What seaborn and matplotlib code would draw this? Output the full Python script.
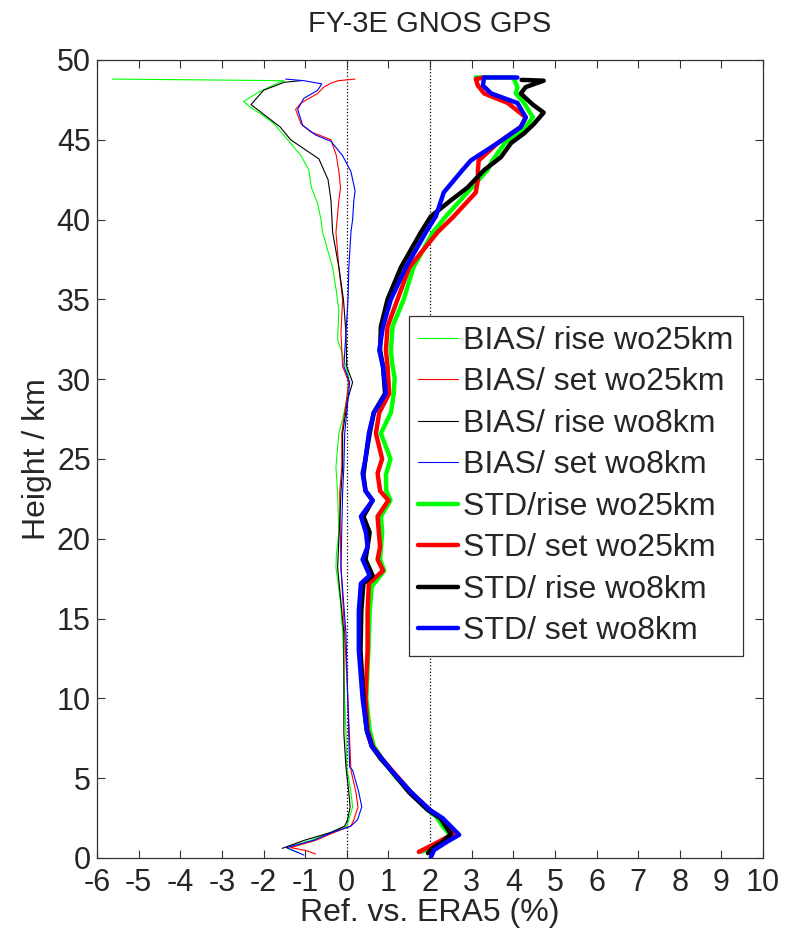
# -*- coding: utf-8 -*-
# FY-3E GNOS GPS refractivity bias / std profiles vs ERA5
import numpy as np
import pandas as pd
import matplotlib
matplotlib.use("Agg")
import matplotlib.pyplot as plt
import seaborn as sns

# ------------------
# data
# ------------------
bias_rise25_h = [0.35, 0.65, 1.1, 1.6, 2.0, 2.4, 3.2, 4.1, 5.7, 7.8, 9.9, 12.0, 14.1, 16.0, 18.2, 19.0,
                 20.4, 22.9, 24.5, 26.6, 27.5, 28.7, 30.1, 30.8, 31.5, 32.5, 34.3, 35.5, 37.0, 38.0,
                 39.2, 40.0, 41.0, 42.0, 43.1, 44.0, 45.0, 46.0, 46.5, 47.0, 47.4, 48.0, 48.5, 48.7,
                 48.75, 48.8]
bias_rise25_v = [-1.2, -1.45, -0.87, -0.4, 0.0, 0.05, 0.14, 0.1, 0.0, -0.02, -0.05, -0.07, -0.1, -0.15,
                 -0.26, -0.25, -0.19, -0.22, -0.26, -0.19, -0.1, 0.0, 0.05, -0.02, -0.1, -0.22, -0.19,
                 -0.25, -0.34, -0.45, -0.58, -0.62, -0.7, -0.85, -0.91, -1.1, -1.42, -1.75, -2.0, -2.3,
                 -2.48, -2.1, -1.7, -1.5, -3.5, -5.63]

bias_set25_h = [0.25, 0.45, 0.65, 1.1, 1.6, 2.0, 2.4, 3.2, 4.1, 5.5, 8.6, 14.1, 18.2, 22.9, 24.5, 26.6,
                29.8, 30.8, 32.9, 35.0, 37.0, 39.2, 41.2, 42.0, 43.0, 44.0, 45.0, 45.5, 46.0, 46.9,
                47.3, 47.9, 48.3, 48.55, 48.7, 48.8]
bias_set25_v = [-0.75, -0.95, -1.35, -0.75, -0.3, 0.1, 0.17, 0.27, 0.22, 0.1, 0.05, -0.05, -0.14, -0.17,
                -0.12, -0.12, 0.05, -0.1, -0.14, -0.1, -0.19, -0.26, -0.19, -0.15, -0.19, -0.25, -0.38,
                -0.87, -1.1, -1.23, -1.1, -0.7, -0.55, -0.38, -0.2, 0.2]

bias_rise8_h = [0.6, 1.1, 1.6, 2.0, 2.4, 3.2, 4.1, 5.7, 7.8, 14.1, 18.2, 22.9, 24.5, 26.6, 28.7, 29.8,
                30.8, 32.9, 35.0, 37.0, 39.2, 41.2, 42.5, 43.8, 45.0, 45.8, 46.5, 47.2, 48.1, 48.6,
                48.7]
bias_rise8_v = [-1.55, -1.03, -0.38, -0.05, 0.02, 0.08, 0.05, -0.02, -0.07, -0.07, -0.22, -0.14, -0.1,
                -0.1, 0.02, 0.14, 0.0, -0.02, -0.08, -0.19, -0.34, -0.38, -0.45, -0.67, -1.35, -1.6,
                -1.95, -2.3, -2.0, -1.5, -1.1]

bias_set8_h = [0.18, 0.65, 1.1, 1.6, 2.0, 2.4, 3.2, 4.1, 5.5, 5.7, 14.1, 18.2, 22.9, 24.5, 26.6, 29.8,
               30.8, 32.9, 35.0, 37.0, 39.2, 40.0, 41.2, 41.8, 43.0, 44.0, 44.9, 45.3, 45.9, 46.9,
               47.6, 48.1, 48.5, 48.7, 48.8]
bias_set8_v = [-1.03, -1.45, -0.8, -0.35, 0.1, 0.26, 0.36, 0.29, 0.14, 0.07, -0.02, -0.14, -0.1, -0.07,
               -0.05, 0.07, -0.07, -0.02, 0.03, 0.05, 0.1, 0.14, 0.17, 0.2, 0.1, -0.1, -0.38, -0.75,
               -1.06, -1.18, -1.03, -0.7, -0.6, -1.03, -1.47]

std_rise25_h = [0.4, 0.8, 1.4, 2.0, 2.6, 3.0, 3.5, 4.1, 5.0, 5.5, 6.2, 7.0, 8.0, 10.0, 12.0, 13.0, 15.5,
                17.0, 18.0, 18.7, 20.4, 21.4, 22.4, 23.0, 24.0, 25.0, 26.6, 27.9, 29.1, 30.1, 30.8,
                31.8, 33.3, 35.0, 37.0, 39.2, 40.2, 41.7, 43.1, 43.7, 44.8, 45.8, 46.4, 47.3, 47.9,
                48.3, 48.9, 48.9]
std_rise25_v = [1.8, 2.2, 2.5, 2.3, 2.15, 1.95, 1.75, 1.55, 1.2, 1.05, 0.85, 0.65, 0.55, 0.47, 0.5,
                0.52, 0.55, 0.6, 0.9, 0.8, 0.85, 0.82, 1.05, 0.95, 0.94, 1.05, 0.82, 1.06, 1.13, 1.15,
                1.1, 1.06, 1.1, 1.37, 1.6, 2.07, 2.38, 2.9, 3.38, 3.5, 3.8, 4.3, 4.47, 4.26, 4.06, 4.1,
                4.0, 3.1]

std_set25_h = [0.38, 0.6, 1.0, 1.5, 2.5, 3.0, 4.1, 5.5, 6.2, 7.0, 8.0, 10.0, 13.0, 15.5, 17.2, 18.0,
               18.7, 19.5, 20.4, 21.4, 22.4, 23.0, 24.1, 25.0, 26.6, 27.9, 29.1, 30.8, 31.8, 33.3,
               35.0, 37.0, 39.2, 40.2, 41.7, 42.5, 43.1, 43.7, 44.8, 45.8, 46.4, 47.3, 47.9, 48.4,
               48.8, 48.9]
std_set25_v = [1.73, 1.9, 2.2, 2.55, 2.25, 2.0, 1.55, 1.08, 0.85, 0.62, 0.5, 0.45, 0.5, 0.5, 0.53, 0.87,
               0.74, 0.8, 0.77, 0.74, 1.0, 0.8, 0.74, 0.85, 0.7, 0.78, 1.02, 0.98, 0.94, 0.98, 1.22,
               1.5, 2.18, 2.57, 3.1, 3.15, 3.15, 3.17, 3.63, 4.18, 4.3, 3.87, 3.3, 3.15, 3.1, 3.3]

std_rise8_h = [0.3, 0.6, 1.0, 1.5, 2.5, 3.0, 4.1, 5.5, 6.2, 7.0, 8.0, 10.0, 13.0, 15.5, 17.2, 17.7,
               18.7, 19.5, 20.4, 21.4, 22.4, 23.0, 24.0, 25.0, 26.6, 27.9, 29.1, 30.8, 31.8, 33.3,
               35.0, 37.0, 39.2, 40.2, 41.2, 42.0, 43.1, 43.9, 44.8, 45.4, 46.0, 46.7, 47.2, 47.7,
               47.9, 48.3, 48.7, 48.75]
std_rise8_v = [1.95, 2.05, 2.3, 2.5, 2.25, 1.95, 1.5, 1.06, 0.82, 0.6, 0.48, 0.4, 0.33, 0.35, 0.4,
               0.62, 0.45, 0.5, 0.55, 0.4, 0.62, 0.45, 0.4, 0.45, 0.55, 0.65, 0.92, 0.87, 0.8, 0.82,
               0.98, 1.3, 1.78, 2.02, 2.5, 2.9, 3.3, 3.7, 3.95, 4.26, 4.5, 4.73, 4.47, 4.26, 4.18,
               4.3, 4.73, 4.2]

std_set8_h = [0.05, 0.5, 1.0, 1.45, 2.5, 3.0, 4.1, 5.5, 6.2, 7.0, 8.0, 10.0, 13.0, 15.5, 17.2, 17.7,
              18.7, 19.5, 20.4, 21.4, 22.4, 23.0, 24.1, 25.0, 26.6, 27.9, 29.1, 30.8, 31.8, 33.3,
              35.0, 37.0, 39.2, 40.2, 41.7, 43.1, 43.7, 44.8, 45.8, 46.4, 47.3, 47.9, 48.4, 48.9,
              48.9]
std_set8_v = [2.02, 2.1, 2.4, 2.7, 2.3, 2.0, 1.55, 1.06, 0.85, 0.6, 0.48, 0.38, 0.29, 0.29, 0.34,
              0.55, 0.38, 0.5, 0.46, 0.34, 0.62, 0.45, 0.38, 0.45, 0.53, 0.65, 0.94, 0.87, 0.78, 0.87,
              1.06, 1.42, 1.9, 2.14, 2.33, 2.78, 2.98, 3.63, 4.18, 4.3, 4.1, 3.47, 3.27, 3.3, 4.1]

series = [
    ("BIAS/ rise wo25km", bias_rise25_h, bias_rise25_v, "#00ff00", 0.8),
    ("BIAS/ set wo25km", bias_set25_h, bias_set25_v, "#ff0000", 0.8),
    ("BIAS/ rise wo8km", bias_rise8_h, bias_rise8_v, "#000000", 0.8),
    ("BIAS/ set wo8km", bias_set8_h, bias_set8_v, "#0000ff", 0.8),
    ("STD/rise wo25km", std_rise25_h, std_rise25_v, "#00ff00", 3.2),
    ("STD/ set wo25km", std_set25_h, std_set25_v, "#ff0000", 3.2),
    ("STD/ rise wo8km", std_rise8_h, std_rise8_v, "#000000", 3.2),
    ("STD/ set wo8km", std_set8_h, std_set8_v, "#0000ff", 3.2),
]

# ------------------
# style
# ------------------
sns.set_style("ticks")
plt.rcParams["font.family"] = ["Liberation Sans", "DejaVu Sans"]
plt.rcParams["axes.unicode_minus"] = False

fig = plt.figure(figsize=(7.85, 9.35), dpi=100)
ax = fig.add_axes([0.1236, 0.0824, 0.8484, 0.8535])

for name, h, v, c, lw in series:
    df = pd.DataFrame({"height": h, "value": v})
    sns.lineplot(data=df, x="value", y="height", sort=False, estimator=None,
                 color=c, linewidth=lw, label=name, ax=ax)

ax.axvline(0, color="k", ls=":", lw=0.9, zorder=0)
ax.axvline(2, color="k", ls=":", lw=0.9, zorder=0)

ax.set_xlim(-6, 10)
ax.set_ylim(0, 50)
ax.set_xticks(np.arange(-6, 11, 1))
ax.set_yticks(np.arange(0, 51, 5))
ax.tick_params(direction="in", length=6, width=0.8, labelsize=22, pad=4.5,
               top=True, right=True, color="#333333")
ax.tick_params(axis="x", pad=7.5)
for sp in ax.spines.values():
    sp.set_linewidth(0.9)
    sp.set_color("#333333")

ax.set_title("FY-3E GNOS GPS", fontsize=21, pad=20)
ax.set_xlabel("Ref. vs. ERA5 (%)", fontsize=23, labelpad=0)
ax.set_ylabel("Height / km", fontsize=23, labelpad=3)

leg = ax.legend(loc="upper left", bbox_to_anchor=(0.468, 0.679), borderaxespad=0,
                fontsize=23, labelspacing=0.36, handlelength=1.25, handletextpad=0.15,
                borderpad=0.3, fancybox=False, framealpha=1, edgecolor="#333333")
leg.get_frame().set_linewidth(0.9)

fig.savefig("out.png", dpi=100)
